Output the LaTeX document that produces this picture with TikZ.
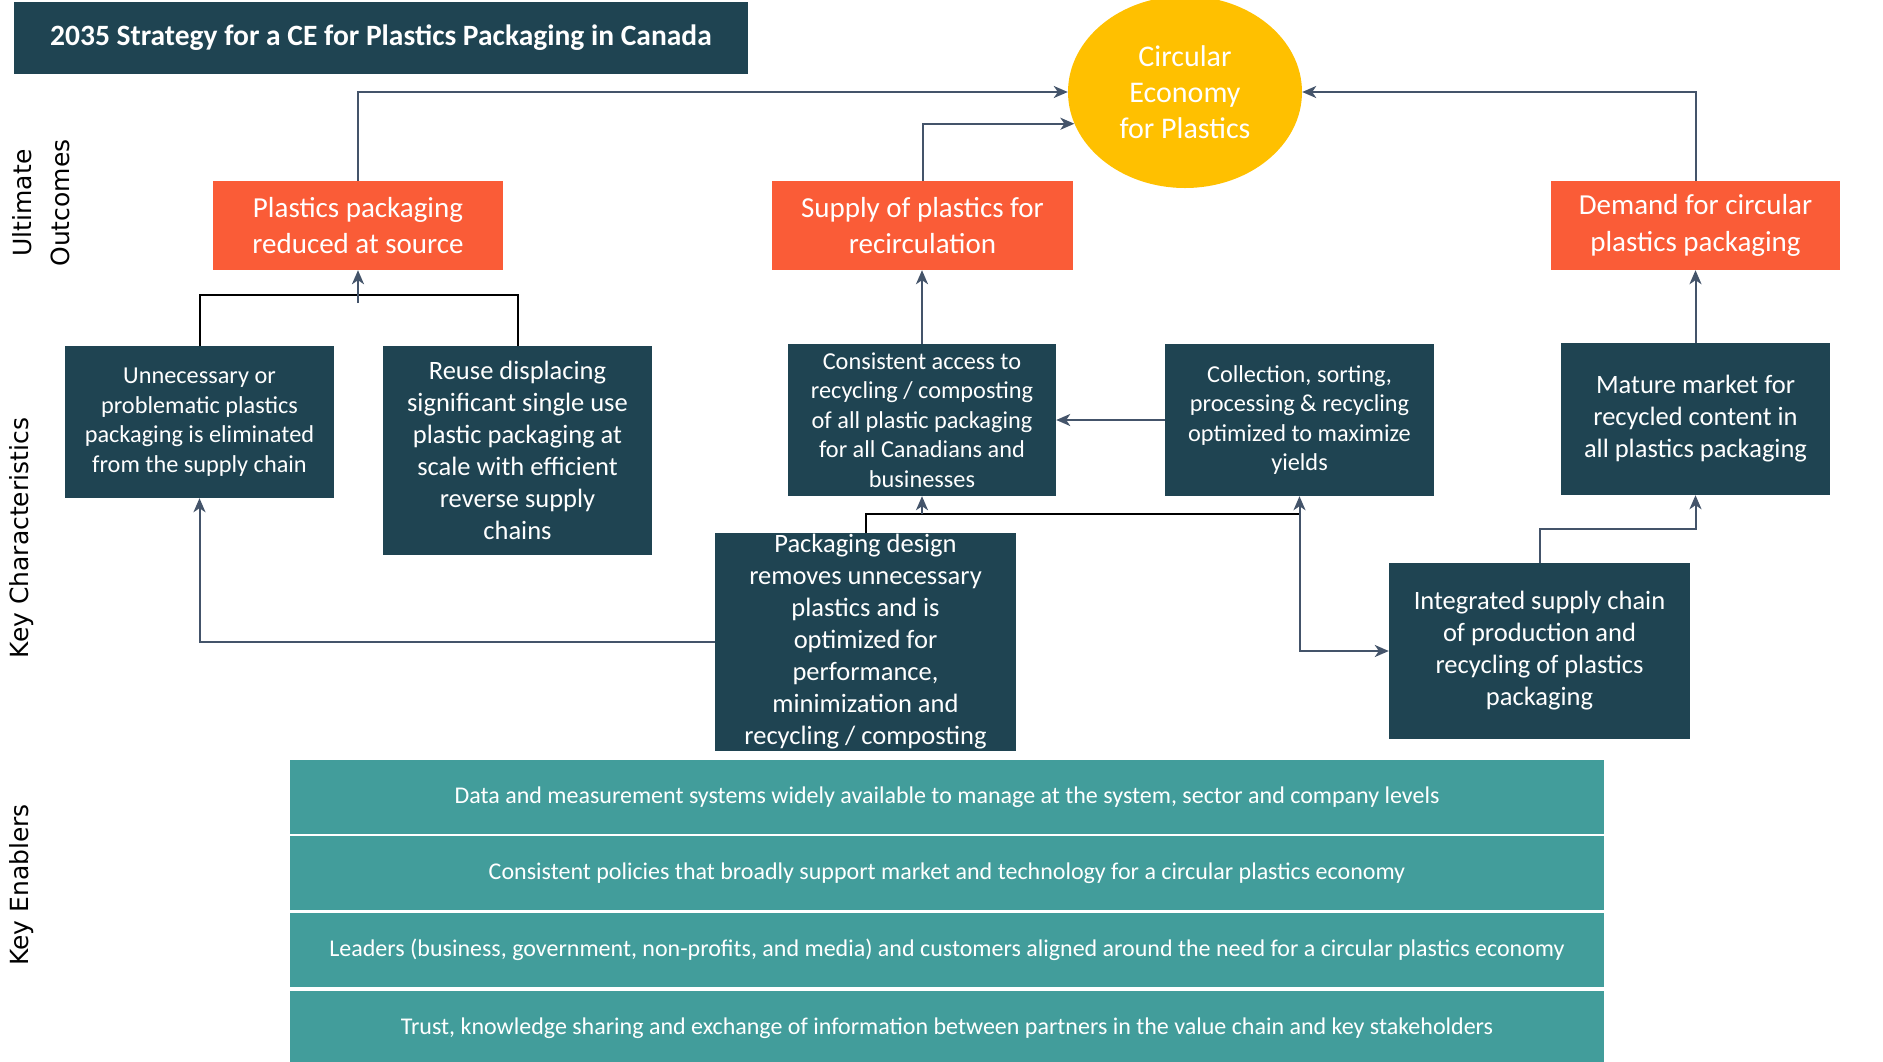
\documentclass[tikz,border=0pt]{standalone}
\usepackage{fontspec}
\setmainfont{Carlito}
\newfontfamily\labelfont{DejaVu Sans}
\usetikzlibrary{shapes.geometric,arrows.meta}

\definecolor{darkbox}{RGB}{31,68,82}
\definecolor{outbox}{RGB}{250,92,55}
\definecolor{cegold}{RGB}{255,192,0}
\definecolor{enabox}{RGB}{66,157,155}
\definecolor{linkgray}{RGB}{68,84,106}

\tikzset{
	headbox/.style={fill=darkbox, text=white, inner sep=0pt, font=\bfseries\fontsize{29.5}{34}\selectfont},
	outcome/.style={fill=outbox, text=white, align=center, inner sep=0pt, font=\fontsize{29}{36.5}\selectfont},
	trait/.style={fill=darkbox, text=white, align=center, inner sep=0pt, font=\fontsize{24.3}{29.5}\selectfont},
	bigtrait/.style={trait, font=\fontsize{26.5}{32}\selectfont},
	enabler/.style={fill=enabox, text=white, inner sep=0pt, minimum width=1314, minimum height=74, font=\fontsize{24}{28}\selectfont},
	side/.style={rotate=90, align=center, inner sep=0pt, font=\labelfont\fontsize{25}{38}\selectfont},
	link/.style={draw=linkgray, line width=2pt, -{Stealth[length=14pt,width=12pt,inset=4pt]}},
	bar/.style={draw=black, line width=2pt},
}

\begin{document}
\begin{tikzpicture}[x=1pt, y=-1pt]
	\useasboundingbox (0,0) rectangle (1883,1061);
	
	% headings
	\node (title) [headbox, minimum width=734, minimum height=72] at (381,38) {2035 Strategy for a CE for Plastics Packaging in Canada};
	\node (lblout) [side] at (41,203) {Ultimate\\Outcomes};
	\node (lblkey) [side] at (22,538) {Key Characteristics};
	\node (lblena) [side] at (22,885) {Key Enablers};
	
	% goal and outcomes
	\node (ce) [ellipse, fill=cegold, text=white, align=center, inner sep=0pt, minimum width=234, minimum height=192, font=\fontsize{30}{36}\selectfont] at (1185,92) {Circular\\Economy\\for Plastics};
	\node (reduce) [outcome, minimum width=290, minimum height=89] at (358,225.5) {Plastics packaging\\reduced at source};
	\node (supply) [outcome, minimum width=301, minimum height=89] at (922.5,225.5) {Supply of plastics for\\recirculation};
	\node (demand) [outcome, minimum width=289, minimum height=89] at (1695.5,225.5) {Demand for circular\\plastics packaging};
	
	% key characteristics
	\node (elim) [trait, minimum width=269, minimum height=152] at (199.5,422) {Unnecessary or\\problematic plastics\\packaging is eliminated\\from the supply chain};
	\node (reuse) [bigtrait, minimum width=269, minimum height=209] at (517.5,450.5) {Reuse displacing\\significant single use\\plastic packaging at\\scale with efficient\\reverse supply\\chains};
	\node (access) [trait, minimum width=268, minimum height=152] at (922,420) {Consistent access to\\recycling / composting\\of all plastic packaging\\for all Canadians and\\businesses};
	\node (collect) [trait, minimum width=269, minimum height=152] at (1299.5,420) {Collection, sorting,\\processing \& recycling\\optimized to maximize\\yields};
	\node (mature) [bigtrait, minimum width=269, minimum height=152] at (1695.5,419) {Mature market for\\recycled content in\\all plastics packaging};
	\node (design) [bigtrait, minimum width=301, minimum height=218] at (865.5,642) {Packaging design\\removes unnecessary\\plastics and is\\optimized for\\performance,\\minimization and\\recycling / composting};
	\node (integ) [bigtrait, minimum width=301, minimum height=176] at (1539.5,651) {Integrated supply chain\\of production and\\recycling of plastics\\packaging};
	
	% key enablers
	\node (data) [enabler] at (947,797) {Data and measurement systems widely available to manage at the system, sector and company levels};
	\node (policy) [enabler] at (947,873) {Consistent policies that broadly support market and technology for a circular plastics economy};
	\node (leaders) [enabler] at (947,950) {Leaders (business, government, non-profits, and media) and customers aligned around the need for a circular plastics economy};
	\node (trust) [enabler] at (947,1028) {Trust, knowledge sharing and exchange of information between partners in the value chain and key stakeholders};
	
	\coordinate (fork) at (358,303);
	\coordinate (bus) at (1299.5,514);
	
	% connectors
	\draw[link] (reduce.north) |- (ce.west);
	\draw[link] (supply.north) |- (ce.196);
	\draw[link] (demand.north) |- (ce.east);
	\draw[bar] (elim.north) -- ++(0,-51) -| (reuse.north);
	\draw[link] (fork) -- (reduce.south);
	\draw[link] (access.north) -- (access.north |- supply.south);
	\draw[link] (collect.west) -- (collect.west -| access.east);
	\draw[link] (mature.north) -- (mature.north |- demand.south);
	\draw[link] (integ.north) -- ++(0,-34) -| (mature.south);
	\draw[bar] (design.north) |- (bus);
	\draw[link] (access.south |- bus) -- (access.south);
	\draw[link, {Stealth[length=14pt,width=12pt,inset=4pt]}-{Stealth[length=14pt,width=12pt,inset=4pt]}] (collect.south) |- (integ.west);
	\draw[link] (design.west) -| (elim.south);
\end{tikzpicture}
\end{document}
